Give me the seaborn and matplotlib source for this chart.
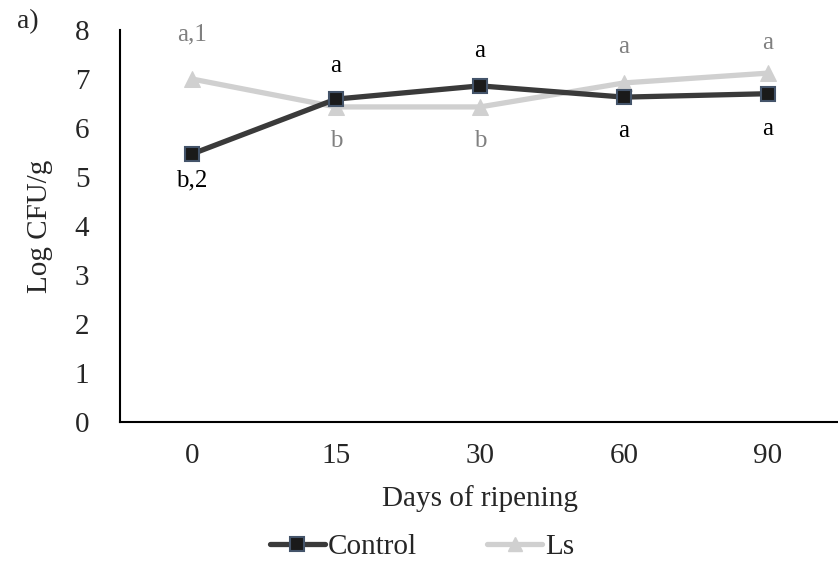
import matplotlib
matplotlib.use("Agg")
import matplotlib.pyplot as plt
import seaborn as sns
import pandas as pd
from matplotlib.lines import Line2D

days = ["0", "15", "30", "60", "90"]
control = [5.47, 6.59, 6.86, 6.63, 6.70]
ls_vals = [7.00, 6.43, 6.43, 6.92, 7.12]
control_letters = ["b,2", "a", "a", "a", "a"]
ls_letters = ["a,1", "b", "b", "a", "a"]
yticks = [0, 1, 2, 3, 4, 5, 6, 7, 8]

sns.set_theme(style="white")
plt.rcParams['font.family'] = ['Liberation Serif', 'DejaVu Serif']

df = pd.DataFrame({
    "day": days * 2,
    "value": control + ls_vals,
    "series": ["Control"] * 5 + ["Ls"] * 5,
})

fig = plt.figure(figsize=(8.38, 5.70), dpi=100)
ax = fig.add_axes([120 / 838, 1 - 422 / 570, 720 / 838, 392 / 570])

ctrl_c = "#3a3a3a"
ls_c = "#d0d0d0"

sns.lineplot(data=df[df.series == "Ls"], x="day", y="value", ax=ax, color=ls_c,
             linewidth=3.8, marker="^", markersize=11, markeredgecolor=ls_c,
             markerfacecolor=ls_c, sort=False, legend=False)
sns.lineplot(data=df[df.series == "Control"], x="day", y="value", ax=ax, color=ctrl_c,
             linewidth=3.8, marker="s", markersize=10, markeredgecolor="#44546A",
             markeredgewidth=1.5, markerfacecolor="#1a1a1a", sort=False, legend=False)

ax.set_xlim(-0.5, 4.5)
ax.set_ylim(0, 8)
ax.set_yticks(yticks)
ax.set_yticklabels([str(t) for t in yticks])
ax.tick_params(axis="both", labelsize=21, length=0)
ax.tick_params(axis="x", pad=15)
ax.tick_params(axis="y", pad=22)
for s in ["top", "right"]:
    ax.spines[s].set_visible(False)
for s in ["left", "bottom"]:
    ax.spines[s].set_color("black")
    ax.spines[s].set_linewidth(1.5)

ax.set_xlabel("Days of ripening", fontsize=21, labelpad=12)
ax.set_ylabel("Log CFU/g", fontsize=21, labelpad=16)

ctrl_off = [-0.55, 0.68, 0.72, -0.7, -0.72]
ls_off = [0.9, -0.7, -0.7, 0.74, 0.62]
for i in range(5):
    ax.text(i, control[i] + ctrl_off[i], control_letters[i], ha="center", va="center",
            fontsize=18, color="black")
    ax.text(i, ls_vals[i] + ls_off[i], ls_letters[i], ha="center", va="center",
            fontsize=18, color="#808080")

fig.text(28 / 838, 1 - 22 / 570, "a)", fontsize=20, ha="center", va="center")

handles = [
    Line2D([], [], color=ctrl_c, linewidth=3.8, marker="s", markersize=10,
           markeredgecolor="#44546A", markeredgewidth=1.5, markerfacecolor="#1a1a1a"),
    Line2D([], [], color=ls_c, linewidth=3.8, marker="^", markersize=10,
           markeredgecolor=ls_c, markerfacecolor=ls_c),
]
fig.legend(handles, ["Control", "Ls"], loc="center", bbox_to_anchor=(422 / 838, 1 - 547 / 570),
           ncol=2, frameon=False, fontsize=21, handlelength=1.9, handletextpad=0.1,
           columnspacing=2.4)

fig.savefig("out.png", dpi=100)
